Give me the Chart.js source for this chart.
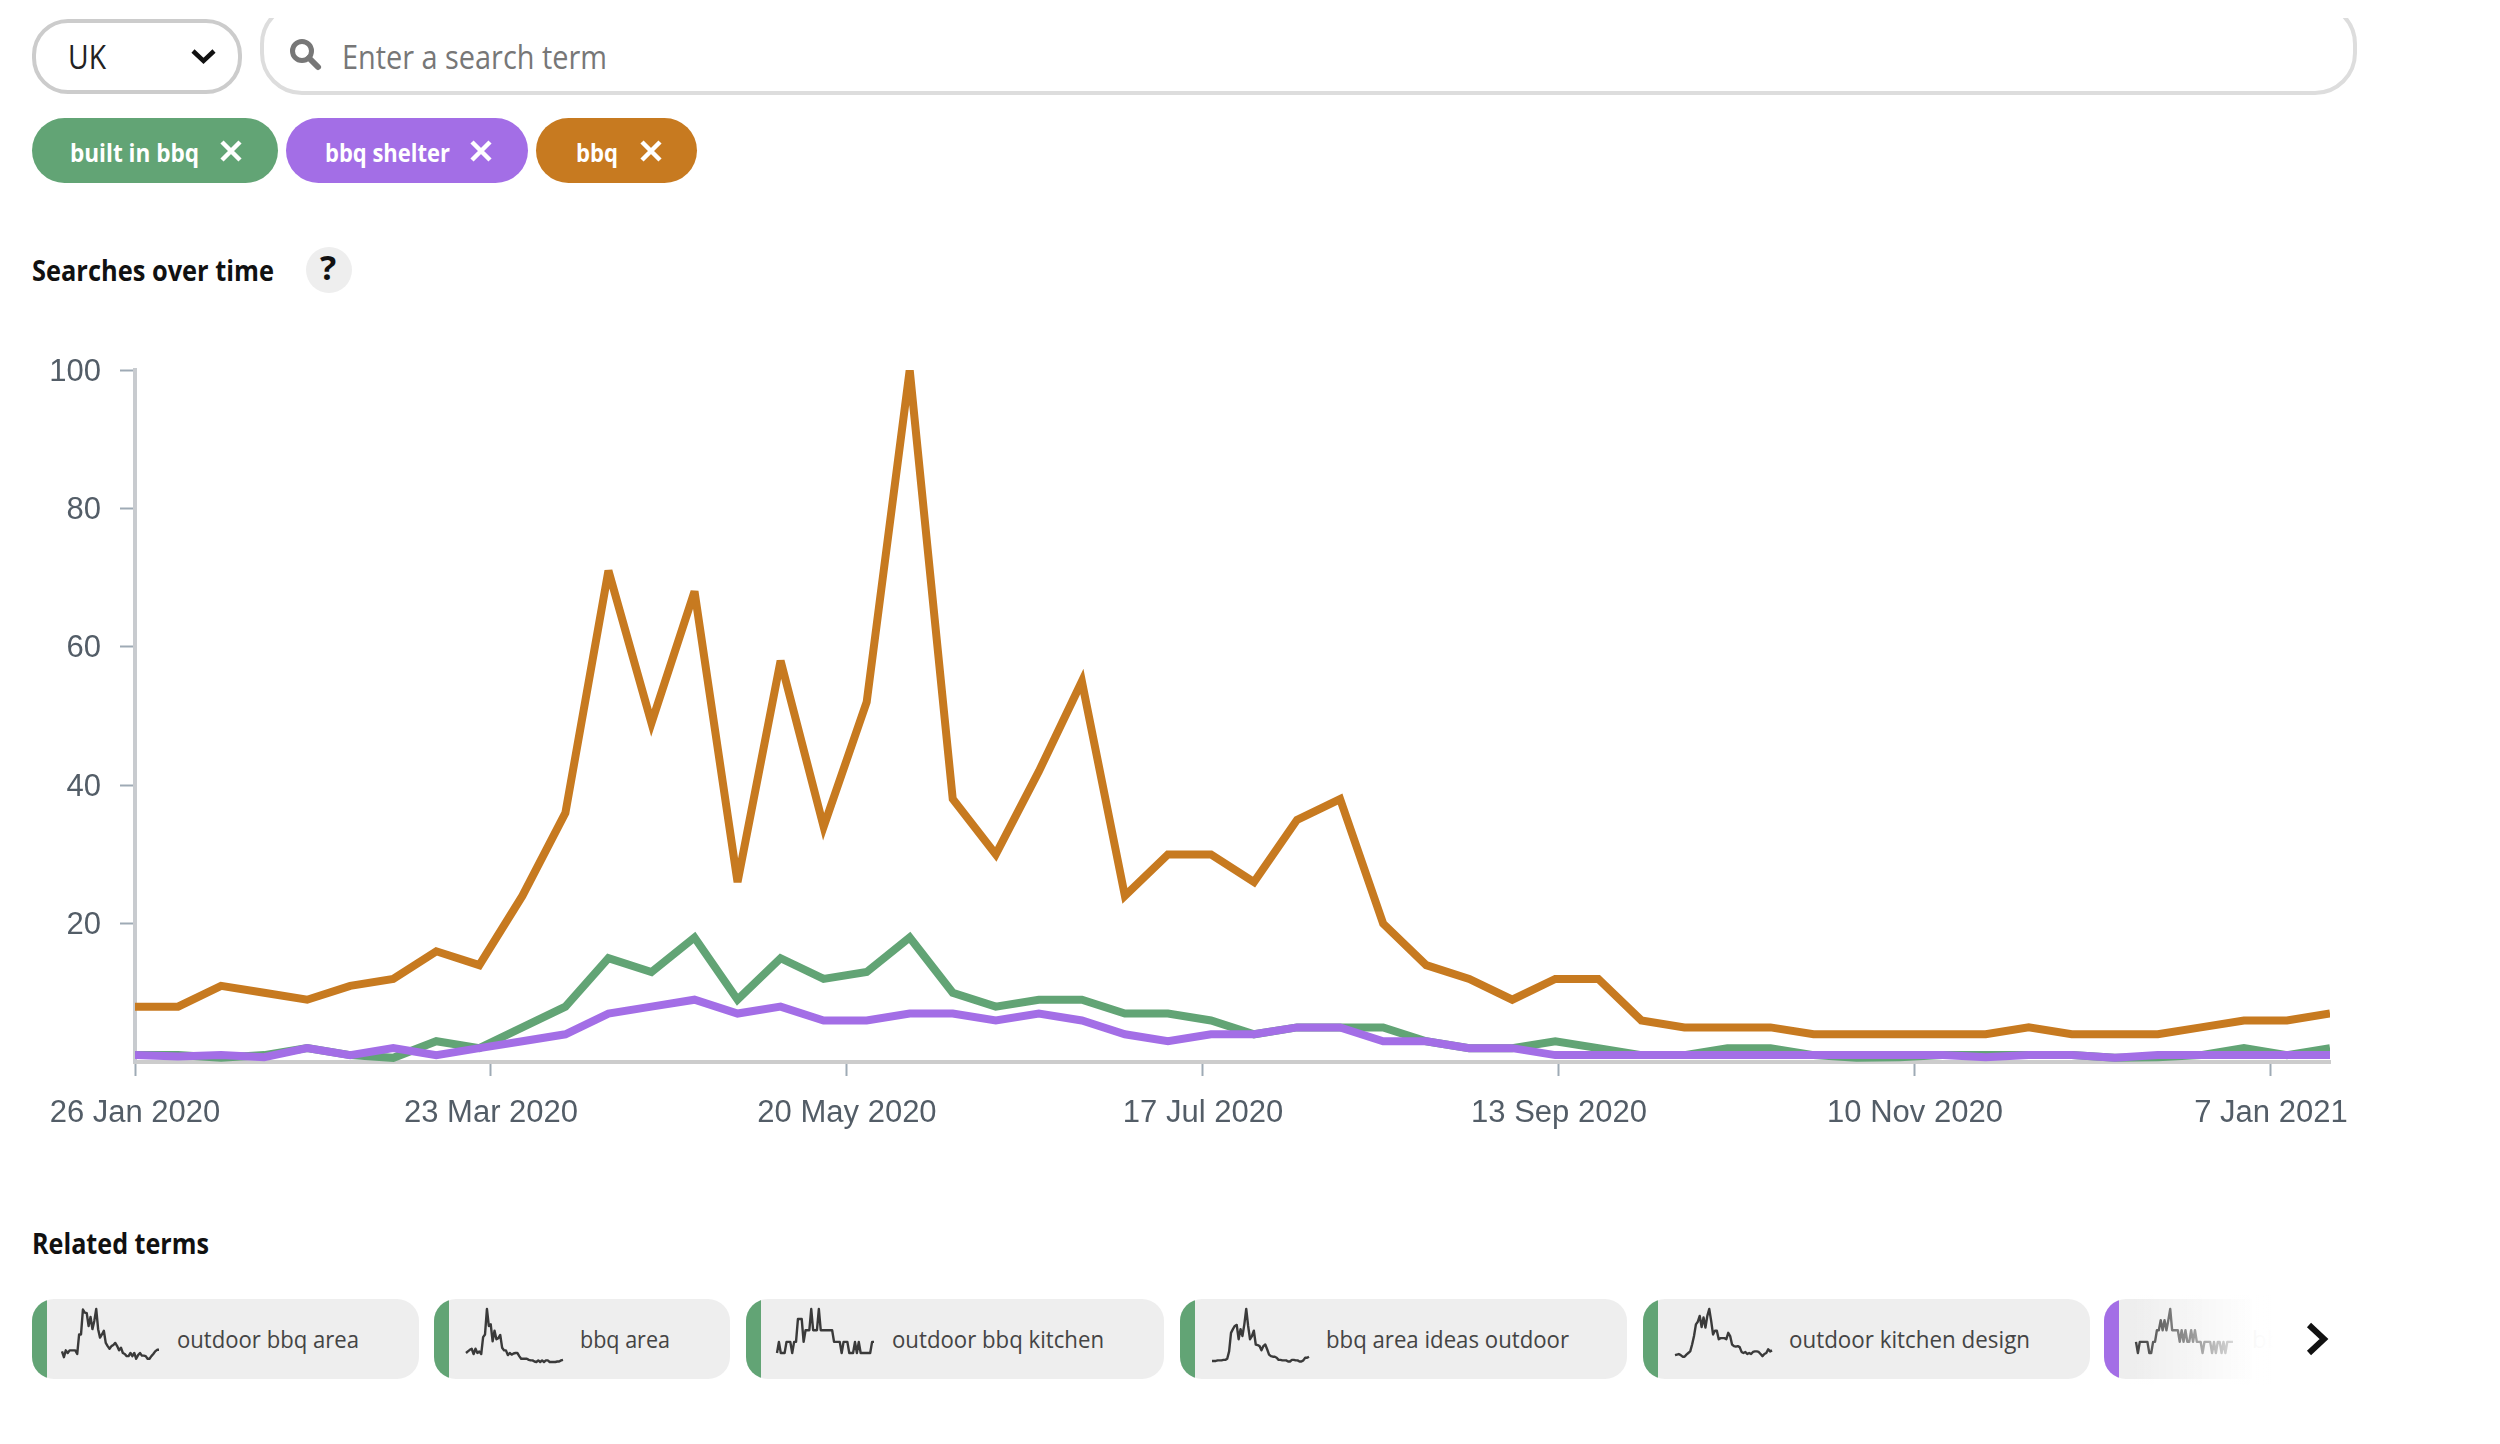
<!DOCTYPE html>
<html><head><meta charset="utf-8">
<script src="https://cdn.jsdelivr.net/npm/chart.js@4"></script>
<style>
html,body{margin:0;padding:0;background:#fff;width:2500px;height:1444px;overflow:hidden;font-family:"Open Sans",sans-serif}
.t{position:absolute;white-space:nowrap;line-height:1;transform-origin:left center}
.box{position:absolute;box-sizing:border-box;background:#fff}
.clip{position:absolute;overflow:hidden}
.pill{position:absolute;top:118px;height:65px;border-radius:33px}
.card{position:absolute;top:1299px;height:80px;background:#eee;border-radius:22px;overflow:hidden}
.card i{position:absolute;left:0;top:0;bottom:0;width:15px}
svg{position:absolute;overflow:visible}
canvas{position:absolute}
</style></head><body>
<div class="clip" style="left:28px;top:18px;width:220px;height:80px"><div class="box" style="left:4px;top:1px;width:210px;height:75px;border:4px solid #ccc;border-radius:36px"></div></div>
<div class="clip" style="left:255px;top:18px;width:2110px;height:80px"><div class="box" style="left:5px;top:-16px;width:2097px;height:93px;border:4px solid #ddd;border-radius:42px"></div></div>
<div class="t" data-w="38" style="left:68px;top:40px;font-size:33px;color:#222">UK</div>
<svg style="left:191px;top:49px" width="25" height="15"><path d="M2 2 L12.5 12 L23 2" fill="none" stroke="#111" stroke-width="4.5"/></svg>
<svg style="left:290px;top:39px" width="31" height="31"><circle cx="12" cy="12" r="9.5" fill="none" stroke="#777" stroke-width="5"/><path d="M19 19 L28 28" stroke="#777" stroke-width="6" stroke-linecap="round"/></svg>
<div class="t" data-w="265" style="left:342px;top:40px;font-size:33px;color:#777">Enter a search term</div>

<div class="pill" style="left:32px;width:246px;background:#62a475"></div>
<div class="pill" style="left:286px;width:242px;background:#a36ee6"></div>
<div class="pill" style="left:536px;width:161px;background:#c77a20"></div>
<div class="t" data-w="129" style="left:70px;top:140px;font-size:25px;font-weight:700;color:#fff">built in bbq</div>
<div class="t" data-w="125" style="left:325px;top:140px;font-size:25px;font-weight:700;color:#fff">bbq shelter</div>
<div class="t" data-w="42" style="left:576px;top:140px;font-size:25px;font-weight:700;color:#fff">bbq</div>
<svg style="left:220px;top:140px" width="22" height="22"><path d="M2 2L20 20M20 2L2 20" stroke="#fff" stroke-width="4.5"/></svg>
<svg style="left:470px;top:140px" width="22" height="22"><path d="M2 2L20 20M20 2L2 20" stroke="#fff" stroke-width="4.5"/></svg>
<svg style="left:640px;top:140px" width="22" height="22"><path d="M2 2L20 20M20 2L2 20" stroke="#fff" stroke-width="4.5"/></svg>

<div class="t" data-w="242" style="left:32px;top:256px;font-size:28px;font-weight:700;color:#111">Searches over time</div>
<div style="position:absolute;left:306px;top:247px;width:46px;height:46px;border-radius:50%;background:#eee"></div>
<div class="t" style="left:320px;top:250px;font-size:34px;font-weight:700;color:#111">?</div>

<canvas id="main" width="2400" height="840" style="left:0;top:320px;width:2400px;height:840px"></canvas>

<div class="t" data-w="177" style="left:32px;top:1229px;font-size:28px;font-weight:700;color:#111">Related terms</div>
<div class="card" style="left:32px;width:387px"><i style="background:#62a475"></i></div>
<div class="card" style="left:434px;width:296px"><i style="background:#62a475"></i></div>
<div class="card" style="left:746px;width:418px"><i style="background:#62a475"></i></div>
<div class="card" style="left:1180px;width:447px"><i style="background:#62a475"></i></div>
<div class="card" style="left:1643px;width:447px"><i style="background:#62a475"></i></div>
<div class="card" style="left:2104px;width:260px"><i style="background:#a36ee6"></i></div>
<div class="t" data-w="182" style="left:177px;top:1327px;font-size:24px;color:#444">outdoor bbq area</div>
<div class="t" data-w="90" style="left:580px;top:1327px;font-size:24px;color:#444">bbq area</div>
<div class="t" data-w="212" style="left:892px;top:1327px;font-size:24px;color:#444">outdoor bbq kitchen</div>
<div class="t" data-w="243" style="left:1326px;top:1327px;font-size:24px;color:#444">bbq area ideas outdoor</div>
<div class="t" data-w="241" style="left:1789px;top:1327px;font-size:24px;color:#444">outdoor kitchen design</div>
<div class="t" style="left:2252px;top:1327px;font-size:24px;color:#444">bbq</div>
<canvas id="s0" width="109" height="65" style="left:56px;top:1303px"></canvas>
<canvas id="s1" width="109" height="65" style="left:460px;top:1303px"></canvas>
<canvas id="s2" width="109" height="65" style="left:771px;top:1303px"></canvas>
<canvas id="s3" width="109" height="65" style="left:1206px;top:1303px"></canvas>
<canvas id="s4" width="109" height="65" style="left:1669px;top:1303px"></canvas>
<canvas id="s5" width="109" height="65" style="left:2130px;top:1303px"></canvas>
<div style="position:absolute;left:2130px;top:1295px;width:240px;height:90px;background:linear-gradient(90deg,rgba(255,255,255,0) 0%,rgba(255,255,255,.97) 52%,#fff 60%)"></div>
<svg style="left:2306px;top:1322px" width="22" height="34"><path d="M3 3 L18 17 L3 31" fill="none" stroke="#111" stroke-width="6"/></svg>

<script>
const weekDates = ["2020-01-26","2020-02-02","2020-02-09","2020-02-16","2020-02-23","2020-03-01","2020-03-08","2020-03-15","2020-03-22","2020-03-29","2020-04-05","2020-04-12","2020-04-19","2020-04-26","2020-05-03","2020-05-10","2020-05-17","2020-05-24","2020-05-31","2020-06-07","2020-06-14","2020-06-21","2020-06-28","2020-07-05","2020-07-12","2020-07-19","2020-07-26","2020-08-02","2020-08-09","2020-08-16","2020-08-23","2020-08-30","2020-09-06","2020-09-13","2020-09-20","2020-09-27","2020-10-04","2020-10-11","2020-10-18","2020-10-25","2020-11-01","2020-11-08","2020-11-15","2020-11-22","2020-11-29","2020-12-06","2020-12-13","2020-12-20","2020-12-27","2021-01-03","2021-01-10","2021-01-17"];
const bbq = [8,8,11,10,9,11,12,16,14,24,36,71,49,68,26,58,34,52,100,38,30,42,55,24,30,30,26,35,38,20,14,12,9,12,12,6,5,5,5,4,4,4,4,4,5,4,4,4,5,6,6,7];
const builtInBbq = [1,1,0.6,1,2,1,0.6,3,2,5,8,15,13,18,9,15,12,13,18,10,8,9,9,7,7,6,4,5,5,5,3,2,2,3,2,1,1,2,2,1,0.6,0.7,1,1,1,1,0.6,0.7,1,2,1,2];
const bbqShelter = [1,0.8,1,0.7,2,1,2,1,2,3,4,7,8,9,7,8,6,6,7,7,6,7,6,4,3,4,4,5,5,3,3,2,2,1,1,1,1,1,1,1,1,1,1,0.7,1,1,0.6,1,1,1,1,1];
const tickDays = [0,57.9,115.8,173.7,231.6,289.5,347.4];
const tickLabels = ["26 Jan 2020","23 Mar 2020","20 May 2020","17 Jul 2020","13 Sep 2020","10 Nov 2020","7 Jan 2021"];
const spark0 = [20,9,22,17,22,22,22,22,15,52,52,99,93,92,68,85,62,78,100,62,46,52,59,36,30,25,30,32,36,30,22,27,17,15,11,11,17,11,17,6,13,17,12,12,11,6,6,11,15,20,23,23];
const spark1 = [17,20,23,25,15,25,17,20,15,47,52,100,68,71,39,59,43,45,51,27,22,22,13,17,14,16,17,17,11,6,6,6,6,4,3,3,1,0,3,0,3,0,3,3,0,0,0,0,1,1,3,4];
const spark2 = [17,38,17,17,17,38,38,38,17,38,38,81,81,81,38,60,60,60,100,60,60,60,100,60,60,60,60,60,60,60,38,38,38,38,17,38,38,38,17,17,17,38,17,38,17,17,17,17,17,17,38,38];
const spark3 = [2,2,2,3,3,3,4,4,6,20,55,62,68,70,43,62,49,71,100,68,43,49,59,33,32,30,22,30,33,24,14,11,10,10,8,4,4,3,3,3,1,1,4,4,3,3,1,1,3,8,8,10];
const spark4 = [13,14,15,13,10,10,14,17,20,33,49,71,76,87,66,84,65,87,100,78,52,59,59,43,45,45,45,43,55,49,33,30,29,30,28,19,17,19,15,17,15,19,20,20,19,15,11,15,17,24,20,22];
const spark5 = [38,17,38,38,38,38,38,17,17,38,38,60,60,79,60,79,60,79,100,60,60,60,60,38,60,38,60,38,38,60,38,60,38,38,38,17,38,38,38,38,17,38,17,38,38,17,38,17,38,38,38,38];

const DAY = 86400000;
const t0 = Date.parse(weekDates[0]);
const dayOf = weekDates.map(d => (Date.parse(d) - t0) / DAY);
const pts = v => v.map((y, i) => ({x: dayOf[i], y}));
const line = (label, data, color, order) => ({label, data: pts(data), borderColor: color, backgroundColor: color,
  borderWidth: 8, pointRadius: 0, tension: 0, order, clip: 0, borderCapStyle: 'butt', borderJoinStyle: 'miter'});
const miter = {id: 'miter', beforeDatasetsDraw(c) { c.ctx.miterLimit = 4; }};

new Chart(document.getElementById('main'), {
  type: 'line',
  plugins: [miter],
  data: {datasets: [
    line('built in bbq', builtInBbq, '#62a475', 3),
    line('bbq shelter', bbqShelter, '#a36ee6', 1),
    line('bbq', bbq, '#c77a20', 2)
  ]},
  options: {
    responsive: false, animation: false, events: [],
    layout: {padding: {top: 50, right: 70, left: 0, bottom: 0}},
    plugins: {legend: {display: false}, tooltip: {enabled: false}, title: {display: false}},
    scales: {
      x: {type: 'linear', min: 0, max: dayOf[dayOf.length - 1],
        afterFit: s => { s.height = 98; s.paddingLeft = 0; s.paddingRight = 0; },
        afterBuildTicks: s => { s.ticks = tickDays.map(value => ({value})); },
        grid: {drawOnChartArea: false, drawTicks: true, tickLength: 14, tickWidth: 2, tickColor: '#9eaab5'},
        border: {display: true, color: '#cccccc', width: 4},
        ticks: {autoSkip: false, maxRotation: 0, minRotation: 0, padding: 19, color: '#535d67',
          font: {family: '"Liberation Sans"', size: 31},
          callback: v => tickLabels[tickDays.indexOf(v)]}
      },
      y: {min: 0, max: 100,
        afterFit: s => { s.width = 135; },
        grid: {drawOnChartArea: false, drawTicks: true, tickLength: 15, tickWidth: 2,
          tickColor: c => c.tick && c.tick.value === 0 ? 'rgba(0,0,0,0)' : '#9eaab5'},
        border: {display: true, color: '#c8cbcf', width: 4},
        ticks: {stepSize: 20, padding: 19, labelOffset: 2, color: '#535d67',
          font: {family: '"Liberation Sans"', size: 31},
          callback: v => v === 0 ? '' : String(v)}
      }
    }
  }
});

[spark0, spark1, spark2, spark3, spark4, spark5].forEach((vals, k) => {
  new Chart(document.getElementById('s' + k), {
    type: 'line',
    data: {labels: vals.map((_, i) => i), datasets: [{data: vals, borderColor: '#3a3a3a', borderWidth: 2.4, borderJoinStyle: 'round', pointRadius: 0, tension: 0, clip: false}]},
    options: {responsive: false, animation: false, events: [],
      layout: {padding: {left: 6, right: 6, top: 6, bottom: 6}},
      plugins: {legend: {display: false}, tooltip: {enabled: false}},
      scales: {x: {display: false}, y: {display: false, min: 0, max: 100}}}
  });
});

document.fonts.ready.then(() => {
  document.querySelectorAll('.t[data-w]').forEach(el => {
    const w = el.getBoundingClientRect().width;
    el.style.transform = 'scaleX(' + (+el.dataset.w / w) + ')';
  });
});
</script>
</body></html>
